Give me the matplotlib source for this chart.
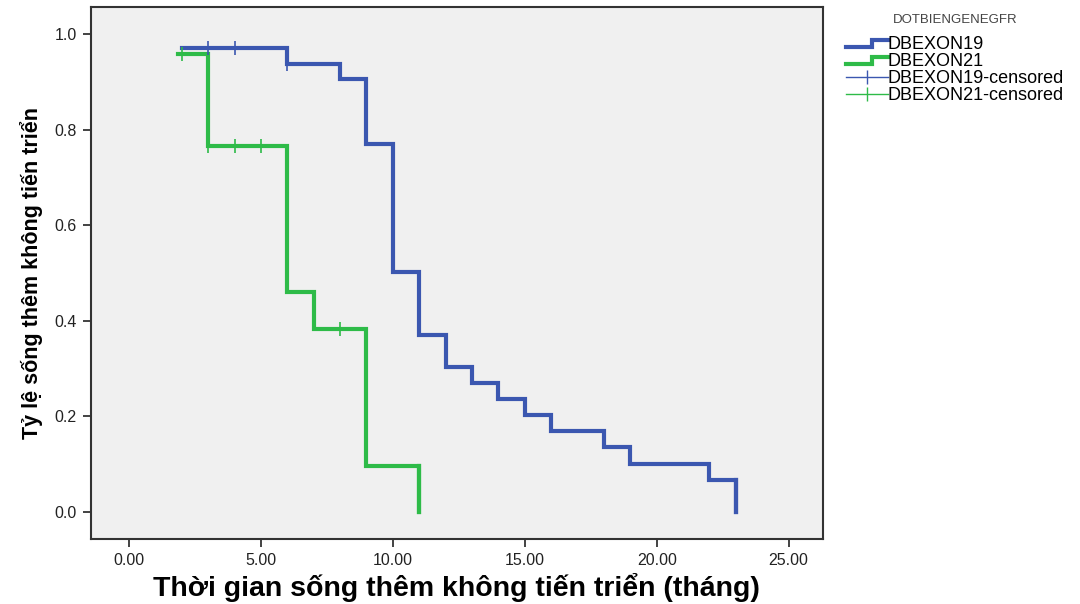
import matplotlib.pyplot as plt
from matplotlib.legend_handler import HandlerBase
from matplotlib.lines import Line2D

plt.rcParams['font.family'] = ['Liberation Sans', 'DejaVu Sans']

# Kaplan-Meier steps: time of each step and survival after it
exon19_t = [2, 6, 8, 9, 10, 11, 12, 13, 14, 15, 16, 18, 19, 22, 23]
exon19_s = [0.970, 0.938, 0.906, 0.770, 0.503, 0.370, 0.303, 0.270,
            0.236, 0.203, 0.169, 0.136, 0.101, 0.067, 0.0]
exon19_cens_t = [3, 4, 6]
exon19_cens_s = [0.970, 0.970, 0.938]

exon21_t = [1.85, 3, 6, 7, 9, 11]
exon21_s = [0.957, 0.766, 0.460, 0.383, 0.096, 0.0]
exon21_cens_t = [2, 3, 4, 5, 8]
exon21_cens_s = [0.957, 0.766, 0.766, 0.766, 0.383]

blue = '#3B57B0'
green = '#2EBB48'


class StepHandler(HandlerBase):
    # small step-shaped glyph for the curve entries
    def create_artists(self, legend, orig, xd, yd, w, h, fontsize, trans):
        xs = [xd, xd + w * 0.62, xd + w * 0.62, xd + w]
        ys = [yd + h * 0.2, yd + h * 0.2, yd + h * 0.75, yd + h * 0.75]
        ln = Line2D(xs, ys, color=orig.get_color(), lw=orig.get_linewidth(),
                    solid_joinstyle='miter', transform=trans)
        return [ln]


fig = plt.figure(figsize=(10.8, 6.04), dpi=100)
ax = fig.add_axes([0.084, 0.108, 0.678, 0.881])
ax.set_facecolor('#F0F0F0')

l19, = ax.step(exon19_t, exon19_s, where='post', color=blue, lw=3.0,
               solid_joinstyle='miter')
l21, = ax.step(exon21_t, exon21_s, where='post', color=green, lw=3.0,
               solid_joinstyle='miter')
# vertical drop to zero at the last event
ax.plot([exon19_t[-1]] * 2, [exon19_s[-2], 0], color=blue, lw=3.0)
ax.plot([exon21_t[-1]] * 2, [exon21_s[-2], 0], color=green, lw=3.0)

c19, = ax.plot(exon19_cens_t, exon19_cens_s, ls='none', marker='|',
               ms=10, mew=1.2, color=blue)
c21, = ax.plot(exon21_cens_t, exon21_cens_s, ls='none', marker='|',
               ms=10, mew=1.2, color=green)

ax.set_xlim(-1.45, 26.3)
ax.set_ylim(-0.056, 1.057)
ax.set_xticks([0, 5, 10, 15, 20, 25])
ax.set_xticklabels(['0.00', '5.00', '10.00', '15.00', '20.00', '25.00'])
ax.set_yticks([0, 0.2, 0.4, 0.6, 0.8, 1.0])
ax.set_yticklabels(['0.0', '0.2', '0.4', '0.6', '0.8', '1.0'])
ax.tick_params(axis='both', length=6, width=1.2, labelsize=11.5,
               colors='#222222', pad=4)
for sp in ax.spines.values():
    sp.set_linewidth(1.5)
    sp.set_color('#333333')

ax.set_xlabel('Thời gian sống thêm không tiến triển (tháng)',
              fontsize=20.5, fontweight='bold', labelpad=4)
ax.set_ylabel('Tỷ lệ sống thêm không tiến triển',
              fontsize=15.5, fontweight='bold', labelpad=8)

h19 = Line2D([], [], color=blue, lw=3.0)
h21 = Line2D([], [], color=green, lw=3.0)
hc19 = Line2D([], [], color=blue, lw=1.0, marker='|', ms=10, mew=1.0)
hc21 = Line2D([], [], color=green, lw=1.0, marker='|', ms=10, mew=1.0)
leg = fig.legend([h19, h21, hc19, hc21],
                 ['DBEXON19', 'DBEXON21', 'DBEXON19-censored',
                  'DBEXON21-censored'],
                 loc='upper left', bbox_to_anchor=(0.777, 0.988),
                 frameon=False, fontsize=13, title='DOTBIENGENEGFR',
                 title_fontsize=9.5, handlelength=2.3, handletextpad=0.0,
                 labelspacing=0.0, borderaxespad=0,
                 handler_map={h19: StepHandler(), h21: StepHandler()})
leg.get_title().set_color('#444444')
leg._legend_box.sep = 7

fig.savefig('out.png', dpi=100, facecolor='white')
